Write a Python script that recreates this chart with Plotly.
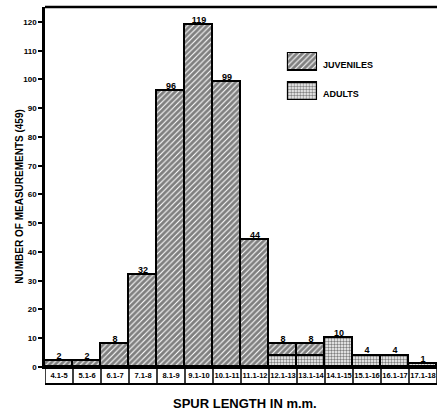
import plotly.graph_objects as go

categories = ["4.1-5", "5.1-6", "6.1-7", "7.1-8", "8.1-9", "9.1-10", "10.1-11",
              "11.1-12", "12.1-13", "13.1-14", "14.1-15", "15.1-16", "16.1-17", "17.1-18"]
juveniles = [2, 2, 8, 32, 96, 119, 99, 44, 4, 4, 0, 0, 0, 0]
adults = [0, 0, 0, 0, 0, 0, 0, 0, 4, 4, 10, 4, 4, 1]
totals = [j + a for j, a in zip(juveniles, adults)]
y_ticks = [0, 10, 20, 30, 40, 50, 60, 70, 80, 90, 100, 110, 120]
legend_names = ["ADULTS", "JUVENILES"]

FONT = "Liberation Sans"
idx = list(range(len(categories)))

JUV_PAT = dict(shape="/", fgcolor="black", bgcolor="white", size=4, solidity=0.72)
ADU_PAT = dict(shape=".", fgcolor="black", bgcolor="white", size=3, solidity=0.5)
OUTLINE = dict(color="black", width=1.8)

fig = go.Figure()
fig.add_trace(go.Bar(
    x=idx, y=adults, name="ADULTS", showlegend=False, hoverinfo="skip",
    marker=dict(color="white", line=OUTLINE, pattern=ADU_PAT),
))
fig.add_trace(go.Bar(
    x=idx, y=juveniles, name="JUVENILES", showlegend=False, hoverinfo="skip",
    marker=dict(color="white", line=OUTLINE, pattern=JUV_PAT),
))
fig.add_trace(go.Scatter(
    x=idx, y=totals, mode="text", text=[str(t) for t in totals],
    textposition="top center", showlegend=False, cliponaxis=False, hoverinfo="skip",
    textfont=dict(family=FONT, size=9, color="black", weight="bold"),
))

# legend swatches drawn on a small auxiliary axis
fig.add_trace(go.Bar(
    x=[1], y=[0], orientation="h", width=0.6, xaxis="x2", yaxis="y2", showlegend=False,
    hoverinfo="skip",
    marker=dict(color="white", line=dict(color="black", width=2.2), pattern=ADU_PAT),
))
fig.add_trace(go.Bar(
    x=[1], y=[1], orientation="h", width=0.6, xaxis="x2", yaxis="y2", showlegend=False,
    hoverinfo="skip",
    marker=dict(color="white", line=dict(color="black", width=2.2), pattern=JUV_PAT),
))

shapes = []
for k in range(len(categories) + 1):
    shapes.append(dict(type="line", xref="x", yref="paper", x0=k - 0.5, x1=k - 0.5,
                       y0=0, y1=-0.047, line=dict(color="black", width=1.5)))
shapes.append(dict(type="line", xref="paper", yref="paper", x0=0, x1=1, y0=-0.047, y1=-0.047,
                   line=dict(color="black", width=2)))
shapes.append(dict(type="line", xref="paper", yref="paper", x0=0, x1=1, y0=1, y1=1,
                   line=dict(color="black", width=2.5)))

annotations = [
    dict(text="<b>NUMBER OF MEASUREMENTS (459)</b>", xref="paper", yref="paper",
         x=-0.084, y=0.472, textangle=-90, showarrow=False,
         font=dict(family=FONT, size=10, color="black")),
    dict(text="<b>SPUR LENGTH IN m.m.</b>", xref="paper", yref="paper",
         x=0.51, y=-0.1, showarrow=False, yanchor="middle",
         font=dict(family=FONT, size=13, color="black")),
]
for i, name in enumerate(legend_names):
    annotations.append(dict(text="<b>" + name + "</b>", xref="x2 domain", yref="y2",
                            x=1.12, y=i - 0.12, xanchor="left", yanchor="middle", showarrow=False,
                            font=dict(family=FONT, size=9, color="black")))

fig.update_layout(
    width=437, height=410,
    margin=dict(l=45, r=0, t=7, b=43),
    paper_bgcolor="white", plot_bgcolor="white",
    barmode="stack", bargap=0,
    font=dict(family=FONT, color="black"),
    hovermode=False,
    shapes=shapes, annotations=annotations,
    xaxis=dict(
        range=[-0.5, 13.5], tickvals=idx, ticktext=categories, ticks="",
        tickfont=dict(family=FONT, size=7.5, color="black", weight="bold"),
        showline=True, linecolor="black", linewidth=2, showgrid=False, zeroline=False,
        automargin=False,
    ),
    yaxis=dict(
        range=[0, 125.2], tickvals=y_ticks, ticktext=[str(v) for v in y_ticks],
        ticks="outside", ticklen=4, tickwidth=1.5, tickcolor="black",
        tickfont=dict(family=FONT, size=8, color="black", weight="bold"),
        showline=True, linecolor="black", linewidth=2.5, showgrid=False, zeroline=False,
        automargin=False,
    ),
    xaxis2=dict(domain=[0.617, 0.694], anchor="y2", range=[0, 1], visible=False),
    yaxis2=dict(domain=[0.742, 0.875], anchor="x2", range=[-0.3, 1.3], visible=False),
)

fig.write_html("out.html", config={"displayModeBar": False},
               post_script="document.body.style.margin='0';")
